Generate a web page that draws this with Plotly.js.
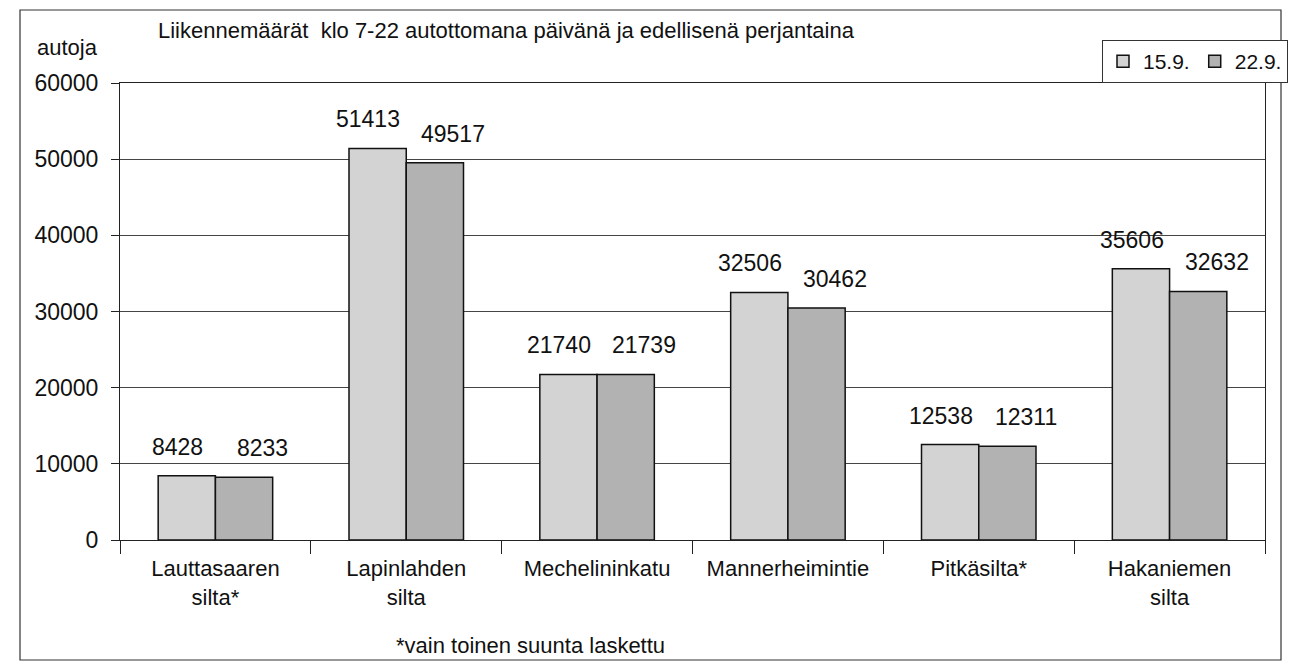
<!DOCTYPE html>
<html>
<head>
<meta charset="utf-8">
<script src="https://cdn.plot.ly/plotly-3.0.1.min.js"></script>
<style>
html,body{margin:0;padding:0;background:#fff;}
#chart{width:1290px;height:667px;}
</style>
</head>
<body>
<div id="chart"></div>
<script>
const categories = ["Lauttasaaren<br>silta*", "Lapinlahden<br>silta", "Mechelininkatu", "Mannerheimintie", "Pitkäsilta*", "Hakaniemen<br>silta"];
const seriesNames = ["15.9.", "22.9."];
const values159 = [8428, 51413, 21740, 32506, 12538, 35606];
const values229 = [8233, 49517, 21739, 30462, 12311, 32632];
const yTicks = [0, 10000, 20000, 30000, 40000, 50000, 60000];

const font = "Liberation Sans, Arial, Helvetica, sans-serif";
const FS = 22;

const traces = [
  {
    type: "bar", name: seriesNames[0], x: categories, y: values159,
    marker: {color: "#d3d3d3", line: {color: "#111", width: 1.5}}
  },
  {
    type: "bar", name: seriesNames[1], x: categories, y: values229,
    marker: {color: "#b2b2b2", line: {color: "#111", width: 1.5}}
  }
];

const L = 120, R = 1265, T = 83, B = 540;
const W = R - L, H = B - T;
const px = v => (v - L) / W;
const py = v => (B - v) / H;

// value labels, positioned like the original (slightly spread apart)
const labelAnn = [];
[[values159, -38], [values229, 47]].forEach(([vals, dx]) => {
  vals.forEach((v, i) => {
    labelAnn.push({
      text: String(v), x: categories[i], y: v, xref: "x", yref: "y",
      xanchor: "center", yanchor: "bottom", xshift: dx, yshift: 14,
      showarrow: false, font: {family: font, size: 23, color: "#111"}
    });
  });
});

const layout = {
  width: 1290, height: 667,
  margin: {l: L, r: 1290 - R, t: T, b: 667 - B, autoexpand: false},
  paper_bgcolor: "#fff", plot_bgcolor: "#fff",
  font: {family: font, size: FS, color: "#111"},
  barmode: "group", bargap: 0.4, bargroupgap: 0,
  showlegend: true,
  legend: {
    orientation: "h", xref: "container", yref: "container",
    x: 1102 / 1290, y: 1 - 40 / 667, xanchor: "left", yanchor: "top",
    bordercolor: "#333", borderwidth: 1, bgcolor: "#fff",
    font: {family: font, size: 21, color: "#111"},
    itemwidth: 30, tracegroupgap: 0, itemclick: false
  },
  title: {
    text: "Liikennemäärät  klo 7-22 autottomana päivänä ja edellisenä perjantaina",
    font: {family: font, size: 22, color: "#111"},
    xref: "container", yref: "container",
    x: 158 / 1290, xanchor: "left", y: 1 - 30 / 667, yanchor: "middle"
  },
  xaxis: {
    type: "category",
    showline: true, linecolor: "#222", linewidth: 1, mirror: true,
    ticks: "outside", ticklen: 13, tickcolor: "#222", tickson: "boundaries",
    ticklabelstandoff: 9,
    showgrid: false, automargin: false,
    tickfont: {family: font, size: FS, color: "#111"}
  },
  yaxis: {
    range: [0, 60000], tickvals: yTicks, ticktext: yTicks.map(String),
    showline: true, linecolor: "#222", linewidth: 1, mirror: true,
    ticks: "outside", ticklen: 8, tickcolor: "#222",
    ticklabelstandoff: 8, automargin: false,
    showgrid: true, gridcolor: "#444", gridwidth: 1,
    zeroline: false,
    tickfont: {family: font, size: 23, color: "#111"}
  },
  annotations: [
    {text: "autoja", xref: "paper", yref: "paper", x: px(35), y: py(47),
     xanchor: "left", yanchor: "middle", showarrow: false,
     font: {family: font, size: FS, color: "#111"}},
    {text: "*vain toinen suunta laskettu", xref: "paper", yref: "paper",
     x: px(530), y: py(645), xanchor: "center", yanchor: "middle", showarrow: false,
     font: {family: font, size: FS, color: "#111"}}
  ].concat(labelAnn),
  shapes: [
    {type: "rect", xref: "paper", yref: "paper",
     x0: px(20), x1: px(1281), y0: py(660), y1: py(10),
     line: {color: "#333", width: 1.2}, fillcolor: "rgba(0,0,0,0)", layer: "below"}
  ]
};

Plotly.newPlot("chart", traces, layout, {displayModeBar: false, staticPlot: true});
</script>
</body>
</html>
